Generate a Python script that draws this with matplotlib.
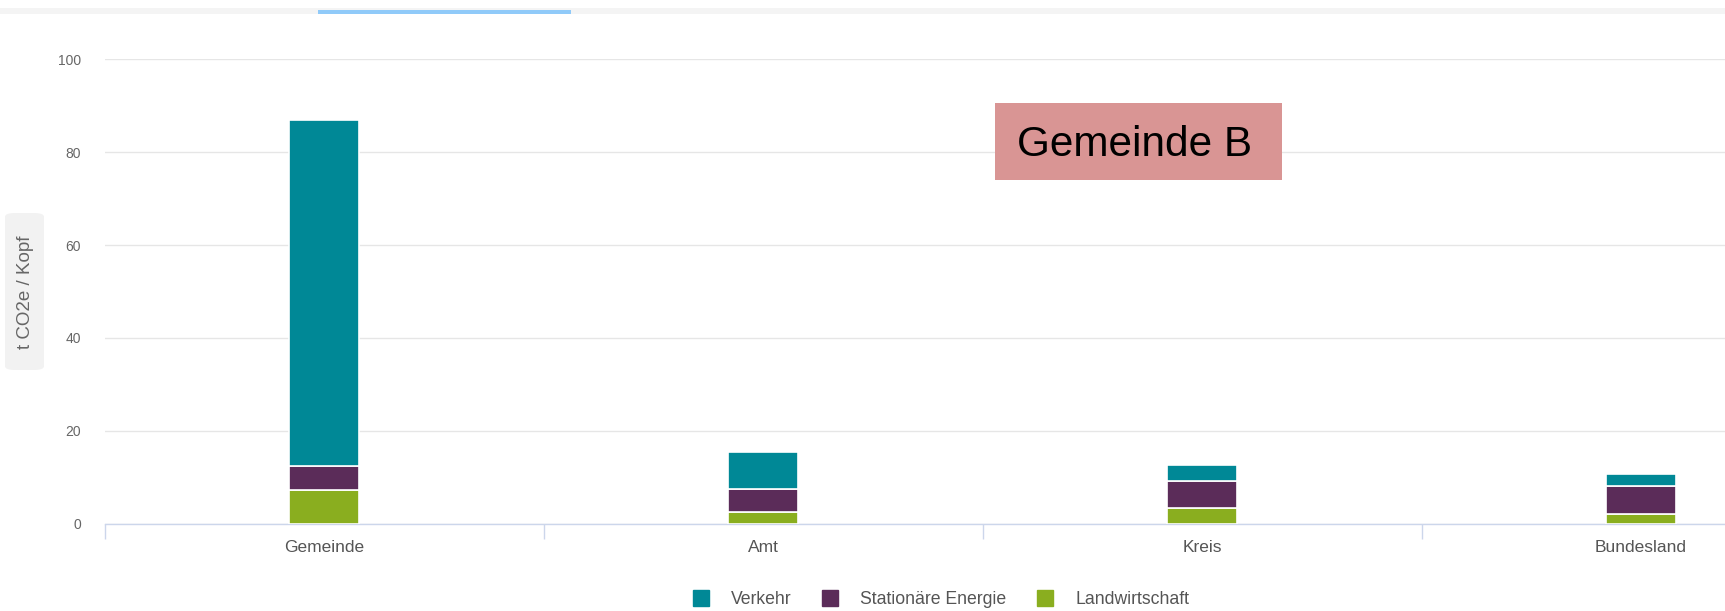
import matplotlib
matplotlib.use("Agg")
import matplotlib.pyplot as plt
from matplotlib.lines import Line2D
from matplotlib.patches import FancyBboxPatch, Rectangle
import numpy as np

categories = ["Gemeinde", "Amt", "Kreis", "Bundesland"]
landwirtschaft = [7.3, 2.4, 3.3, 2.0]
stationaere_energie = [5.1, 5.0, 5.8, 6.1]
verkehr = [74.6, 8.1, 3.6, 2.5]
series_names = ["Verkehr", "Stationäre Energie", "Landwirtschaft"]
y_ticks = [0, 20, 40, 60, 80, 100]
y_label = "t CO2e / Kopf"
annotation = "Gemeinde B"

c_verkehr = "#008896"
c_energie = "#5b2c59"
c_land = "#8aae1f"

plt.rcParams['font.family'] = ['Liberation Sans', 'DejaVu Sans']

W, H = 1725, 611
fig = plt.figure(figsize=(W / 100, H / 100), dpi=100)
fig.patch.set_facecolor("white")

left_px = 104.5
zero_px = 523.6
top_px = 59.4
ax = fig.add_axes([left_px / W, (H - zero_px) / H, 1 - left_px / W, (zero_px - top_px) / H])
band_px = 439.0
x = np.arange(len(categories))
width = 70 / band_px

ax.bar(x, landwirtschaft, width, color=c_land, edgecolor="white", linewidth=1.2, zorder=3)
bottom2 = np.array(landwirtschaft)
ax.bar(x, stationaere_energie, width, bottom=bottom2, color=c_energie, edgecolor="white", linewidth=1.2, zorder=3)
bottom3 = bottom2 + np.array(stationaere_energie)
ax.bar(x, verkehr, width, bottom=bottom3, color=c_verkehr, edgecolor="white", linewidth=1.2, zorder=3)

ax.set_xlim(-0.5, -0.5 + (W - left_px) / band_px)
ax.set_ylim(0, 100)
ax.set_yticks(y_ticks)
ax.set_yticklabels([str(v) for v in y_ticks], color="#666666", fontsize=10)
ax.yaxis.grid(True, color="#e6e6e6", linewidth=1.0, zorder=0)
ax.set_axisbelow(True)

ax.set_xticks(x)
ax.set_xticklabels(categories, color="#555555", fontsize=12.5)
ax.set_xticks([-0.5, 0.5, 1.5, 2.5], minor=True)
ax.tick_params(axis="x", which="major", length=0, pad=12)
ax.tick_params(axis="x", which="minor", length=11, color="#ccd6eb", width=1.0)
ax.tick_params(axis="y", length=0, pad=17)

for s in ["top", "right", "left"]:
    ax.spines[s].set_visible(False)
ax.spines["bottom"].set_color("#ccd6eb")
ax.spines["bottom"].set_linewidth(1.0)
ax.set_facecolor("none")

# top navigation band
fig.add_artist(Rectangle((0, 1 - 14 / H), 1, 6 / H, transform=fig.transFigure,
                         facecolor="#f4f4f4", edgecolor="none"))
fig.add_artist(Rectangle((318 / W, 1 - 13.5 / H), (571 - 318) / W, 4 / H, transform=fig.transFigure,
                         facecolor="#90caf9", edgecolor="none"))

# y label box
fig.add_artist(FancyBboxPatch((5 / W, 1 - 370 / H), 39 / W, 157 / H, transform=fig.transFigure,
                              boxstyle="round,pad=0,rounding_size=0.006",
                              facecolor="#f2f2f2", edgecolor="none"))
fig.text(25 / W, 1 - 292 / H, y_label, rotation=90, ha="center", va="center",
         fontsize=13.5, color="#666666")

# annotation box
fig.add_artist(Rectangle((995 / W, 1 - 179.5 / H), (1282.5 - 995) / W, (179.5 - 102.5) / H,
                         transform=fig.transFigure, facecolor="#d99594", edgecolor="none"))
fig.text(1135 / W, 1 - 145 / H, annotation, ha="center", va="center",
         fontsize=30.5, color="black")

handles = [Line2D([], [], linestyle="none", marker="s", markersize=12,
                  markerfacecolor=c, markeredgecolor=c)
           for c in [c_verkehr, c_energie, c_land]]
fig.legend(handles, series_names, loc="center", bbox_to_anchor=(0.5 * (698 + 1183) / W, 1 - 600 / H),
           ncol=3, frameon=False, fontsize=12.7, labelcolor="#555555",
           handlelength=1.0, handletextpad=1.2, columnspacing=1.7, borderpad=0)

fig.savefig("out.png", dpi=100, facecolor="white")
